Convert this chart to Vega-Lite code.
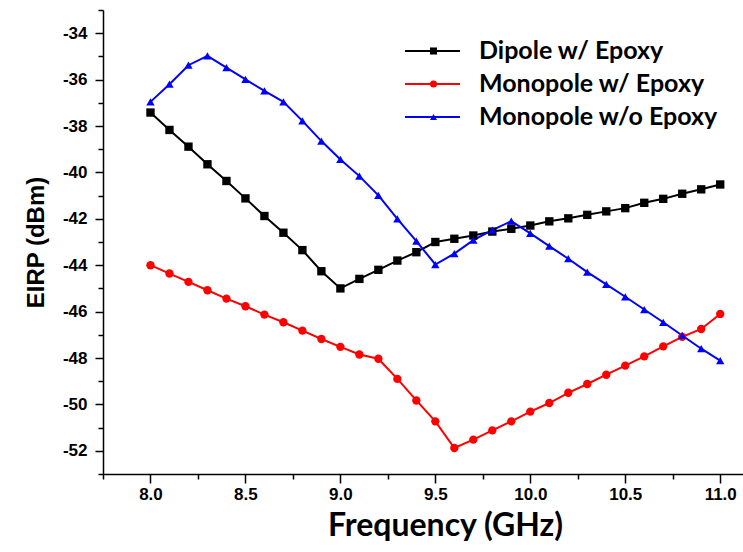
{
  "$schema": "https://vega.github.io/schema/vega-lite/v6.json",
  "width": 640,
  "height": 464,
  "autosize": "none",
  "padding": {"left": 103, "top": 10, "right": 0, "bottom": 78},
  "background": "white",
  "datasets": {
    "d": [
      {"f": 8.0, "v": -37.42, "s": "Dipole w/ Epoxy"}, {"f": 8.1, "v": -38.17, "s": "Dipole w/ Epoxy"}, {"f": 8.2, "v": -38.89, "s": "Dipole w/ Epoxy"}, {"f": 8.3, "v": -39.65, "s": "Dipole w/ Epoxy"}, {"f": 8.4, "v": -40.37, "s": "Dipole w/ Epoxy"}, {"f": 8.5, "v": -41.12, "s": "Dipole w/ Epoxy"}, {"f": 8.6, "v": -41.88, "s": "Dipole w/ Epoxy"}, {"f": 8.7, "v": -42.6, "s": "Dipole w/ Epoxy"}, {"f": 8.8, "v": -43.35, "s": "Dipole w/ Epoxy"}, {"f": 8.9, "v": -44.26, "s": "Dipole w/ Epoxy"}, {"f": 9.0, "v": -45.0, "s": "Dipole w/ Epoxy"}, {"f": 9.1, "v": -44.59, "s": "Dipole w/ Epoxy"}, {"f": 9.2, "v": -44.2, "s": "Dipole w/ Epoxy"}, {"f": 9.3, "v": -43.8, "s": "Dipole w/ Epoxy"}, {"f": 9.4, "v": -43.44, "s": "Dipole w/ Epoxy"}, {"f": 9.5, "v": -43.0, "s": "Dipole w/ Epoxy"}, {"f": 9.6, "v": -42.86, "s": "Dipole w/ Epoxy"}, {"f": 9.7, "v": -42.72, "s": "Dipole w/ Epoxy"}, {"f": 9.8, "v": -42.55, "s": "Dipole w/ Epoxy"}, {"f": 9.9, "v": -42.43, "s": "Dipole w/ Epoxy"}, {"f": 10.0, "v": -42.29, "s": "Dipole w/ Epoxy"}, {"f": 10.1, "v": -42.11, "s": "Dipole w/ Epoxy"}, {"f": 10.2, "v": -41.98, "s": "Dipole w/ Epoxy"}, {"f": 10.3, "v": -41.83, "s": "Dipole w/ Epoxy"}, {"f": 10.4, "v": -41.68, "s": "Dipole w/ Epoxy"}, {"f": 10.5, "v": -41.54, "s": "Dipole w/ Epoxy"}, {"f": 10.6, "v": -41.31, "s": "Dipole w/ Epoxy"}, {"f": 10.7, "v": -41.14, "s": "Dipole w/ Epoxy"}, {"f": 10.8, "v": -40.92, "s": "Dipole w/ Epoxy"}, {"f": 10.9, "v": -40.73, "s": "Dipole w/ Epoxy"}, {"f": 11.0, "v": -40.52, "s": "Dipole w/ Epoxy"},
      {"f": 8.0, "v": -44.0, "s": "Monopole w/ Epoxy"}, {"f": 8.1, "v": -44.36, "s": "Monopole w/ Epoxy"}, {"f": 8.2, "v": -44.72, "s": "Monopole w/ Epoxy"}, {"f": 8.3, "v": -45.08, "s": "Monopole w/ Epoxy"}, {"f": 8.4, "v": -45.44, "s": "Monopole w/ Epoxy"}, {"f": 8.5, "v": -45.77, "s": "Monopole w/ Epoxy"}, {"f": 8.6, "v": -46.13, "s": "Monopole w/ Epoxy"}, {"f": 8.7, "v": -46.46, "s": "Monopole w/ Epoxy"}, {"f": 8.8, "v": -46.82, "s": "Monopole w/ Epoxy"}, {"f": 8.9, "v": -47.18, "s": "Monopole w/ Epoxy"}, {"f": 9.0, "v": -47.52, "s": "Monopole w/ Epoxy"}, {"f": 9.1, "v": -47.85, "s": "Monopole w/ Epoxy"}, {"f": 9.2, "v": -48.03, "s": "Monopole w/ Epoxy"}, {"f": 9.3, "v": -48.9, "s": "Monopole w/ Epoxy"}, {"f": 9.4, "v": -49.83, "s": "Monopole w/ Epoxy"}, {"f": 9.5, "v": -50.73, "s": "Monopole w/ Epoxy"}, {"f": 9.6, "v": -51.88, "s": "Monopole w/ Epoxy"}, {"f": 9.7, "v": -51.52, "s": "Monopole w/ Epoxy"}, {"f": 9.8, "v": -51.12, "s": "Monopole w/ Epoxy"}, {"f": 9.9, "v": -50.73, "s": "Monopole w/ Epoxy"}, {"f": 10.0, "v": -50.31, "s": "Monopole w/ Epoxy"}, {"f": 10.1, "v": -49.94, "s": "Monopole w/ Epoxy"}, {"f": 10.2, "v": -49.5, "s": "Monopole w/ Epoxy"}, {"f": 10.3, "v": -49.12, "s": "Monopole w/ Epoxy"}, {"f": 10.4, "v": -48.72, "s": "Monopole w/ Epoxy"}, {"f": 10.5, "v": -48.33, "s": "Monopole w/ Epoxy"}, {"f": 10.6, "v": -47.93, "s": "Monopole w/ Epoxy"}, {"f": 10.7, "v": -47.5, "s": "Monopole w/ Epoxy"}, {"f": 10.8, "v": -47.09, "s": "Monopole w/ Epoxy"}, {"f": 10.9, "v": -46.75, "s": "Monopole w/ Epoxy"}, {"f": 11.0, "v": -46.1, "s": "Monopole w/ Epoxy"},
      {"f": 8.0, "v": -36.96, "s": "Monopole w/o Epoxy"}, {"f": 8.1, "v": -36.2, "s": "Monopole w/o Epoxy"}, {"f": 8.2, "v": -35.38, "s": "Monopole w/o Epoxy"}, {"f": 8.3, "v": -34.98, "s": "Monopole w/o Epoxy"}, {"f": 8.4, "v": -35.48, "s": "Monopole w/o Epoxy"}, {"f": 8.5, "v": -35.99, "s": "Monopole w/o Epoxy"}, {"f": 8.6, "v": -36.49, "s": "Monopole w/o Epoxy"}, {"f": 8.7, "v": -36.96, "s": "Monopole w/o Epoxy"}, {"f": 8.8, "v": -37.78, "s": "Monopole w/o Epoxy"}, {"f": 8.9, "v": -38.65, "s": "Monopole w/o Epoxy"}, {"f": 9.0, "v": -39.44, "s": "Monopole w/o Epoxy"}, {"f": 9.1, "v": -40.16, "s": "Monopole w/o Epoxy"}, {"f": 9.2, "v": -40.99, "s": "Monopole w/o Epoxy"}, {"f": 9.3, "v": -42.0, "s": "Monopole w/o Epoxy"}, {"f": 9.4, "v": -42.96, "s": "Monopole w/o Epoxy"}, {"f": 9.5, "v": -43.97, "s": "Monopole w/o Epoxy"}, {"f": 9.6, "v": -43.5, "s": "Monopole w/o Epoxy"}, {"f": 9.7, "v": -42.92, "s": "Monopole w/o Epoxy"}, {"f": 9.8, "v": -42.49, "s": "Monopole w/o Epoxy"}, {"f": 9.9, "v": -42.1, "s": "Monopole w/o Epoxy"}, {"f": 10.0, "v": -42.63, "s": "Monopole w/o Epoxy"}, {"f": 10.1, "v": -43.18, "s": "Monopole w/o Epoxy"}, {"f": 10.2, "v": -43.72, "s": "Monopole w/o Epoxy"}, {"f": 10.3, "v": -44.3, "s": "Monopole w/o Epoxy"}, {"f": 10.4, "v": -44.83, "s": "Monopole w/o Epoxy"}, {"f": 10.5, "v": -45.36, "s": "Monopole w/o Epoxy"}, {"f": 10.6, "v": -45.91, "s": "Monopole w/o Epoxy"}, {"f": 10.7, "v": -46.46, "s": "Monopole w/o Epoxy"}, {"f": 10.8, "v": -47.03, "s": "Monopole w/o Epoxy"}, {"f": 10.9, "v": -47.6, "s": "Monopole w/o Epoxy"}, {"f": 11.0, "v": -48.11, "s": "Monopole w/o Epoxy"}
    ]
  },
  "data": {"name": "d"},
  "encoding": {
    "x": {
      "field": "f", "type": "quantitative",
      "scale": {"domain": [7.75, 11.12], "nice": false, "zero": false},
      "axis": {
        "title": "Frequency (GHz)",
        "values": [7.75, 8, 8.25, 8.5, 8.75, 9, 9.25, 9.5, 9.75, 10, 10.25, 10.5, 10.75, 11],
        "labelExpr": "abs(datum.value*2 - round(datum.value*2)) < 0.001 ? format(datum.value, '.1f') : ''",
        "tickSize": {"condition": {"test": "abs(datum.value*2 - round(datum.value*2)) < 0.001", "value": 9}, "value": 5},
        "labelFont": "Liberation Sans", "labelFontSize": 17, "labelFontWeight": "bold", "labelColor": "#000",
        "labelPadding": 3, "labelFlush": false,
        "titleFont": "Lato", "titleFontSize": 32, "titleFontWeight": "bold", "titleColor": "#000",
        "titlePadding": 8, "titleX": 342,
        "grid": false, "domainColor": "#000", "domainWidth": 1.5, "tickColor": "#000", "tickWidth": 1.5
      }
    },
    "y": {
      "field": "v", "type": "quantitative",
      "scale": {"domain": [-53, -33], "nice": false, "zero": false},
      "axis": {
        "title": "EIRP (dBm)",
        "values": [-53, -52, -51, -50, -49, -48, -47, -46, -45, -44, -43, -42, -41, -40, -39, -38, -37, -36, -35, -34, -33],
        "labelExpr": "datum.value % 2 === 0 ? '' + datum.value : ''",
        "tickSize": {"condition": {"test": "datum.value % 2 === 0", "value": 8}, "value": 5},
        "labelFont": "Liberation Sans", "labelFontSize": 17, "labelFontWeight": "bold", "labelColor": "#000",
        "labelPadding": 8, "labelFlush": false,
        "titleFont": "Liberation Sans", "titleFontSize": 24, "titleFontWeight": "bold", "titleColor": "#000",
        "titlePadding": 14,
        "grid": false, "domainColor": "#000", "domainWidth": 1.5, "tickColor": "#000", "tickWidth": 1.5
      }
    }
  },
  "layer": [
    {
      "mark": {"type": "line", "strokeWidth": 2},
      "encoding": {
        "stroke": {
          "field": "s", "type": "nominal",
          "scale": {"range": ["#000000", "#ff0000", "#0000ff"]},
          "legend": {
            "orient": "none", "legendX": 317, "legendY": 28.5, "title": null, "padding": 0,
            "symbolType": "M-5,0H5", "symbolSize": 121, "symbolStrokeWidth": 2,
            "labelFont": "Lato", "labelFontSize": 25, "labelFontWeight": "bold", "labelColor": "#000",
            "labelOffset": 34, "rowPadding": 7, "labelLimit": 400
          }
        }
      }
    },
    {
      "mark": {"type": "point", "filled": true, "size": 70, "opacity": 1, "strokeWidth": 0},
      "encoding": {
        "fill": {
          "field": "s", "type": "nominal",
          "scale": {"domain": ["Dipole w/ Epoxy", "Monopole w/ Epoxy", "Monopole w/o Epoxy"], "range": ["#000000", "#ff0000", "#0000ff"]},
          "legend": {
            "orient": "none", "legendX": 318, "legendY": 28.5, "title": null, "padding": 0,
            "symbolSize": 50, "symbolStrokeWidth": 0, "symbolOpacity": 1,
            "labelExpr": "''", "labelFont": "Lato", "labelFontSize": 25, "labelFontWeight": "bold",
            "labelOffset": 18, "rowPadding": 7, "labelLimit": 400
          }
        },
        "shape": {
          "field": "s", "type": "nominal",
          "scale": {"domain": ["Dipole w/ Epoxy", "Monopole w/ Epoxy", "Monopole w/o Epoxy"], "range": ["square", "circle", "triangle-up"]},
          "legend": {
            "orient": "none", "legendX": 318, "legendY": 28.5, "title": null, "padding": 0,
            "symbolSize": 50, "symbolStrokeWidth": 0, "symbolOpacity": 1,
            "labelExpr": "''", "labelFont": "Lato", "labelFontSize": 25, "labelFontWeight": "bold",
            "labelOffset": 18, "rowPadding": 7, "labelLimit": 400
          }
        }
      }
    }
  ],
  "config": {"view": {"stroke": null}}
}
